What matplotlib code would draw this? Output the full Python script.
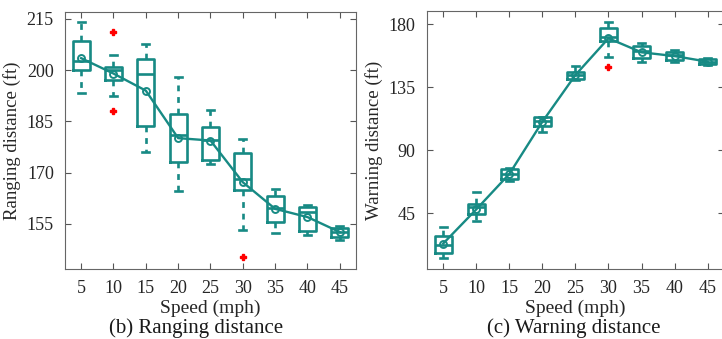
import numpy as np
import matplotlib
matplotlib.use('Agg')
import matplotlib.pyplot as plt
from matplotlib import rcParams

rcParams.update({'font.family': ['Liberation Serif', 'DejaVu Serif'],
                 'mathtext.fontset': 'stix'})

TEAL = '#178a84'
SPEEDS = [5, 10, 15, 20, 25, 30, 35, 40, 45]

# (b) ranging distance (ft)
rng_whislo = [193.3, 192.3, 176.0, 164.6, 172.4, 153.3, 152.3, 151.8, 150.3]
rng_q1 = [200.1, 197.2, 183.6, 173.1, 173.8, 164.8, 155.5, 153.0, 151.3]
rng_med = [202.6, 199.9, 198.9, 181.1, 179.6, 168.2, 159.6, 158.4, 152.7]
rng_q3 = [208.4, 201.0, 203.3, 187.2, 183.5, 175.8, 163.3, 159.9, 153.8]
rng_whishi = [214.1, 204.3, 207.5, 197.9, 188.2, 179.9, 165.2, 160.6, 154.3]
rng_mean = [203.5, 199.0, 194.0, 180.1, 179.4, 167.2, 159.4, 157.0, 152.6]
rng_fliers = [[], [211.3, 188.1], [], [], [], [145.4], [], [], []]

# (c) warning distance (ft)
warn_whislo = [13.1, 39.3, 68.1, 102.6, 140.0, 156.6, 153.1, 153.1, 150.7]
warn_q1 = [16.2, 44.3, 69.1, 107.1, 140.5, 167.9, 155.9, 154.3, 151.2]
warn_med = [22.1, 49.1, 73.2, 110.7, 143.6, 170.5, 160.7, 157.9, 153.1]
warn_q3 = [28.9, 51.4, 76.2, 113.4, 145.9, 177.4, 164.3, 160.2, 155.0]
warn_whishi = [35.2, 59.8, 76.9, 113.9, 150.0, 181.2, 166.2, 161.4, 155.4]
warn_mean = [23.2, 47.6, 72.9, 110.2, 143.6, 169.8, 159.8, 157.1, 153.1]
warn_fliers = [[], [], [], [], [], [149.5], [], [], []]


def make_stats(lo, q1, med, q3, hi, fl):
    return [dict(whislo=a, q1=b, med=c, q3=d, whishi=e, fliers=f)
            for a, b, c, d, e, f in zip(lo, q1, med, q3, hi, fl)]


def draw_panel(ax, stats, means, ylim, yticks, ylabel, xright):
    lw = 1.9
    ax.bxp(stats, positions=SPEEDS, widths=2.6, capwidths=1.1,
           showfliers=True, manage_ticks=False,
           boxprops=dict(color=TEAL, lw=lw),
           whiskerprops=dict(color=TEAL, lw=lw, ls=(0, (2.2, 2.2))),
           capprops=dict(color=TEAL, lw=lw),
           medianprops=dict(color=TEAL, lw=lw),
           flierprops=dict(marker='P', markersize=5, markerfacecolor='red',
                           markeredgecolor='red', ls='none'))
    ax.plot(SPEEDS, means, color=TEAL, lw=1.7, marker='o', markersize=5,
            markerfacecolor='none', markeredgewidth=1.4,
            markeredgecolor=TEAL, zorder=4)
    ax.set_xlim(2.5, xright)
    ax.set_ylim(*ylim)
    ax.set_xticks(SPEEDS)
    ax.set_xticklabels([str(s) for s in SPEEDS])
    ax.set_yticks(yticks)
    ax.tick_params(direction='in', length=4, top=True, right=True,
                   labelsize=13, color='#555555', labelcolor='#262626', pad=8)
    for sp in ax.spines.values():
        sp.set_color('#666666')
        sp.set_linewidth(0.8)
    ax.set_xlabel('Speed (mph)', fontsize=14, labelpad=2, color='#262626')
    ax.set_ylabel(ylabel, fontsize=13.5, labelpad=4, color='#262626')


FIG = plt.figure(figsize=(7.22, 3.39), dpi=100)
ax1 = FIG.add_axes([0.090, 0.2065, 0.403, 0.758])
ax2 = FIG.add_axes([0.591, 0.2065, 0.412, 0.761])

draw_panel(ax1, make_stats(rng_whislo, rng_q1, rng_med, rng_q3, rng_whishi, rng_fliers),
           rng_mean, (141.8, 217.0), [155, 170, 185, 200, 215],
           'Ranging distance (ft)', 47.5)
draw_panel(ax2, make_stats(warn_whislo, warn_q1, warn_med, warn_q3, warn_whishi, warn_fliers),
           warn_mean, (5, 189.3), [45, 90, 135, 180],
           'Warning distance (ft)', 47.5)

FIG.text(196 / 722, 1 - 328 / 339, '(b) Ranging distance', ha='center', va='center',
         fontsize=15, color='#1a1a1a')
FIG.text(574 / 722, 1 - 328 / 339, '(c) Warning distance', ha='center', va='center',
         fontsize=15, color='#1a1a1a')

FIG.savefig('out.png', dpi=100)
